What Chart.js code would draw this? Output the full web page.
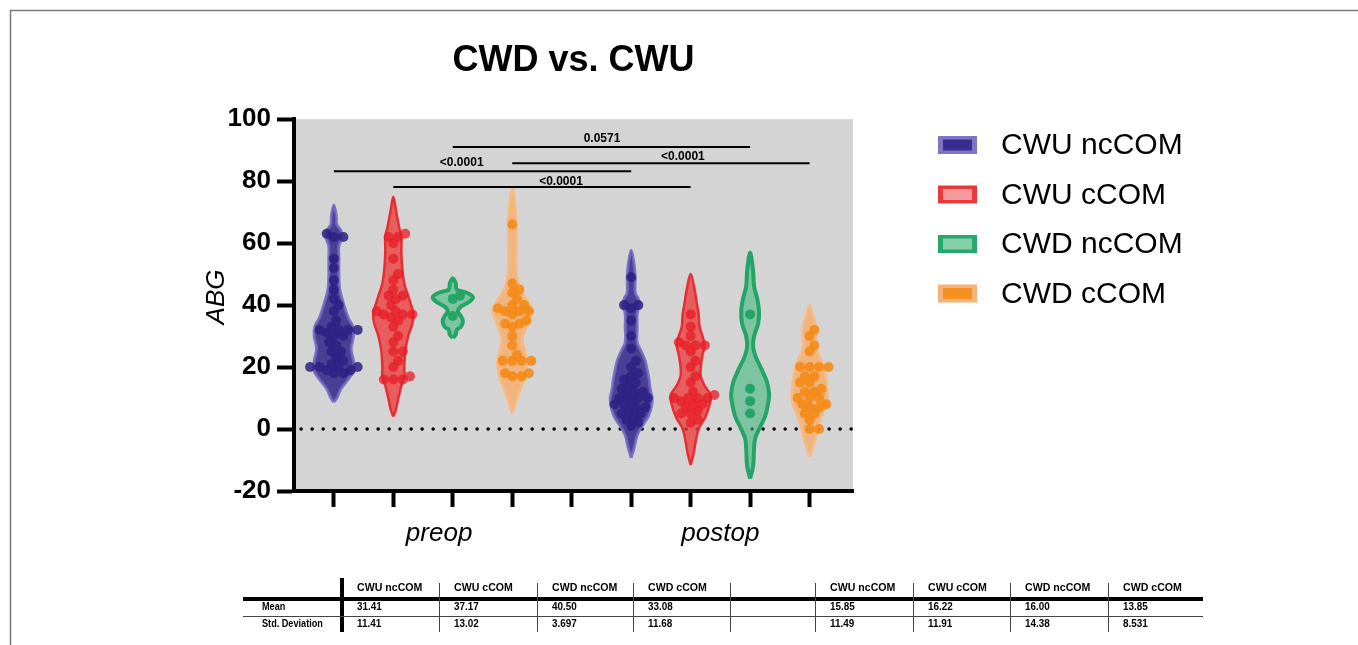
<!DOCTYPE html>
<html>
<head>
<meta charset="utf-8">
<title>CWD vs. CWU</title>
<script src="https://cdn.jsdelivr.net/npm/chart.js@4.4.0/dist/chart.umd.min.js"></script>
<style>
  html, body { margin: 0; padding: 0; background: #fff; }
</style>
</head>
<body>
<canvas id="abgChart" width="1358" height="645"></canvas>
<script>
// ---- data ----
const groups = ['CWU ncCOM', 'CWU cCOM', 'CWD ncCOM', 'CWD cCOM'];
const timepoints = ['preop', 'postop'];
const slots = [0, 1, 2, 3, 5, 6, 7, 8];          // x slot of each violin (gap at 4)
const yTicks = [-20, 0, 20, 40, 60, 80, 100];

// ABG values per violin (estimated from the dots)
const preopCwuNc = [63, 62, 62, 55, 52, 48, 45, 42, 40, 38, 35, 33, 32, 32, 32, 32, 31, 30, 30, 28, 27, 25, 25, 23, 22, 21, 20, 20, 20, 20, 19, 19, 18, 18];
const preopCwuC  = [63, 62, 62, 60, 55, 50, 48, 45, 43, 43, 42, 40, 38, 38, 37, 37, 37, 36, 35, 33, 30, 28, 25, 25, 22, 20, 17, 16, 16, 16];
const preopCwdNc = [43, 42, 36.5];
const preopCwdC  = [66, 47, 45, 44, 42, 40, 40, 39, 38, 38, 38, 37, 35, 34, 34, 33, 30, 27, 24, 22, 22, 22, 22, 18, 18, 17, 17];
const postopCwuNc = [49, 40, 40, 39, 35, 30, 26, 22, 20, 18, 17, 16, 15, 14, 13, 12, 12, 11, 10, 10, 10, 9, 8, 8, 7, 7, 6, 5, 5, 4, 3, 2, 1];
const postopCwuC  = [37, 33, 30, 28, 27, 27, 27, 25, 22, 20, 17, 15, 12, 11, 10, 10, 10, 10, 9, 8, 8, 7, 6, 5, 5, 3, 2];
const postopCwdNc = [37, 13, 9, 5];
const postopCwdC  = [32, 30, 27, 25, 20, 20, 20, 20, 17, 17, 15, 15, 13, 12, 12, 10, 10, 10, 8, 8, 7, 7, 5, 5, 3, 0, 0];

// violin density profiles: [ABG, half width in slot units], bottom to top
const densPreopCwuNc = [[8.7,0],[10,.05],[13,.12],[16,.24],[19,.34],[22,.33],[26,.29],[30,.33],[33,.32],[36,.24],[40,.17],[45,.10],[50,.085],[55,.085],[59,.085],[62,.135],[64,.12],[66,.05],[69,.04],[72.3,0]];
const densPreopCwuC  = [[4,0],[6,.04],[10,.085],[14,.135],[17,.185],[20,.185],[25,.2],[30,.25],[34,.32],[37,.34],[40,.3],[43,.25],[47,.185],[52,.15],[57,.135],[62,.135],[65,.1],[70,.05],[75,0]];
const densPreopCwdNc = [[29.4,0],[30.5,.05],[32,.067],[33,.135],[34.8,.17],[36.5,.135],[38,.085],[39.5,.135],[41,.27],[42.5,.34],[44,.235],[45,.067],[47,.05],[48.7,0]];
const densPreopCwdC  = [[5,0],[8,.05],[12,.12],[16,.2],[19,.235],[22,.25],[26,.2],[29,.17],[32,.22],[36,.3],[38.5,.336],[41,.27],[44,.17],[47,.1],[52,.067],[60,.067],[66,.067],[72,.05],[78,0]];
const densPostopCwuNc = [[-9.3,0],[-6,.05],[-2,.1],[1,.185],[4,.286],[7,.336],[10,.353],[13,.32],[16,.3],[19,.27],[22,.235],[25,.17],[28,.1],[33,.1],[37,.1],[40,.135],[42,.12],[44,.067],[49,.067],[53,.05],[57.7,0]];
const densPostopCwuC  = [[-11.6,0],[-8,.05],[-4,.085],[0,.135],[4,.25],[8,.32],[11,.336],[14,.235],[17,.17],[20,.17],[24,.2],[27,.235],[30,.2],[33,.15],[37,.135],[41,.1],[45,.067],[50,0]];
const densPostopCwdNc = [[-16,0],[-12,.05],[-6,.067],[-3,.085],[0,.15],[4,.25],[8,.3],[11,.32],[15,.286],[19,.2],[23,.1],[26.5,.05],[30,.067],[34,.135],[38,.15],[42,.12],[46,.067],[51,.05],[57,0]];
const densPostopCwdC  = [[-9,0],[-6,.05],[-3,.1],[0,.135],[4,.2],[8,.286],[11,.3],[15,.286],[19,.25],[22,.2],[25,.135],[28,.1],[31,.12],[34,.1],[37,.05],[40,0]];

// multiple comparisons: [from slot, to slot, p]
const comparisons = [[2, 7, '0.0571'], [3, 8, '<0.0001'], [0, 5, '<0.0001'], [1, 6, '<0.0001']];
const comparisonLevels = [91, 85.8, 83.2, 78.1];

// descriptive stats table
const tableMeans = ['31.41', '37.17', '40.50', '33.08', '15.85', '16.22', '16.00', '13.85'];
const tableSds   = ['11.41', '13.02', '3.697', '11.68', '11.49', '11.91', '14.38', '8.531'];

const abgValues = [preopCwuNc, preopCwuC, preopCwdNc, preopCwdC, postopCwuNc, postopCwuC, postopCwdNc, postopCwdC];
const densities = [densPreopCwuNc, densPreopCwuC, densPreopCwdNc, densPreopCwdC, densPostopCwuNc, densPostopCwuC, densPostopCwdNc, densPostopCwdC];

// ---- styles ----
const FONT = '"Liberation Sans", Arial, sans-serif';
const styles = [
  { fill: 'rgba(56,42,140,0.88)', line: 'rgba(112,102,190,0.85)', lineW: 3, dot: 'rgba(46,32,132,0.85)', boxOut: '#7d76c4', boxIn: '#3a2d8f' },
  { fill: 'rgba(236,60,62,0.78)', line: 'rgba(232,40,43,0.95)', lineW: 2.5, dot: 'rgba(232,28,36,0.75)', boxOut: '#e8393c', boxIn: '#f59b9c' },
  { fill: 'rgba(70,185,128,0.6)', line: '#23a566', lineW: 4, dot: '#23a566', boxOut: '#26a96a', boxIn: '#86d0a8' },
  { fill: 'rgba(246,172,104,0.8)', line: 'rgba(248,186,130,1)', lineW: 2.5, dot: 'rgba(245,135,15,0.85)', boxOut: '#f5b27a', boxIn: '#f6901e' }
];

// violin outline: right side bottom->top, then left side back down
function outline(pos, profile) {
  const right = profile.map(([v, w]) => ({ x: pos + w, y: v }));
  const left = profile.slice().reverse().map(([v, w]) => ({ x: pos - w, y: v }));
  return right.concat(left.slice(1));
}

// simple beeswarm so equal values sit side by side
function swarm(values, pos) {
  const pxX = 59.47, pxY = 3.1, minD = 7.5;
  const placed = [];
  values.slice().sort((a, b) => a - b).forEach(v => {
    for (let k = 0; k < 60; k++) {
      const off = (k === 0 ? 0 : (k % 2 ? 1 : -1) * Math.ceil(k / 2)) * 0.04;
      const ok = placed.every(p => Math.hypot((p.x - pos - off) * pxX, (p.y - v) * pxY) >= minD);
      if (ok) { placed.push({ x: pos + off, y: v }); break; }
    }
  });
  return placed;
}

const datasets = [];
datasets.push({
  type: 'line', data: [{ x: -0.55, y: 0 }, { x: 8.73, y: 0 }],
  borderColor: '#000', borderWidth: 3.5, borderDash: [0, 11], borderCapStyle: 'round',
  pointRadius: 0, order: 5
});
slots.forEach((pos, i) => {
  const st = styles[i % 4];
  datasets.push({
    type: 'line', label: groups[i % 4], data: outline(pos, densities[i]),
    backgroundColor: st.fill, borderColor: st.line, borderWidth: st.lineW,
    fill: 'shape', tension: 0.35, pointRadius: 0, order: 4
  });
  datasets.push({
    type: 'scatter', data: swarm(abgValues[i], pos),
    backgroundColor: st.dot, borderWidth: 0, pointRadius: 5, order: 3
  });
});
comparisons.forEach(([a, b], i) => {
  datasets.push({
    type: 'line', data: [{ x: a, y: comparisonLevels[i] }, { x: b, y: comparisonLevels[i] }],
    borderColor: '#000', borderWidth: 2, pointRadius: 0, order: 1
  });
});

// where the bracket p-values and timepoint captions sit
const pLabelX = [4.51, 5.87, 2.15, 3.82];
const pLabelY = [92.6, 86.8, 84.8, 78.7];
const timepointX = [1.77, 6.5];

function narrowText(ctx, text, x, y, sx) {
  ctx.save();
  ctx.translate(x, y);
  ctx.scale(sx, 1);
  ctx.fillText(text, 0, 0);
  ctx.restore();
}

const decor = {
  id: 'decor',
  beforeDraw(chart) {
    const { ctx, chartArea: a } = chart;
    ctx.save();
    ctx.fillStyle = '#fff';
    ctx.fillRect(0, 0, chart.width, chart.height);
    ctx.fillStyle = '#d4d4d4';
    ctx.fillRect(a.left, a.top, a.right - a.left, a.bottom - a.top);
    ctx.restore();
  },
  afterDraw(chart) {
    const { ctx, scales: { x, y } } = chart;
    ctx.save();
    ctx.fillStyle = '#000';
    ctx.textAlign = 'center';
    ctx.textBaseline = 'alphabetic';

    // p values
    ctx.font = 'bold 12px ' + FONT;
    comparisons.forEach((c, i) => ctx.fillText(c[2], x.getPixelForValue(pLabelX[i]), y.getPixelForValue(pLabelY[i])));

    // timepoint captions
    ctx.font = 'italic 26px ' + FONT;
    timepoints.forEach((t, i) => ctx.fillText(t, x.getPixelForValue(timepointX[i]), 541));

    // y title
    ctx.save();
    ctx.translate(224, 297);
    ctx.rotate(-Math.PI / 2);
    ctx.fillText('ABG', 0, 0);
    ctx.restore();

    // legend
    ctx.textAlign = 'left';
    ctx.textBaseline = 'middle';
    ctx.font = '30px ' + FONT;
    groups.forEach((g, i) => {
      const cy = 145 + i * 49.5;
      ctx.fillStyle = styles[i].boxOut;
      ctx.fillRect(938, cy - 9, 39, 18);
      ctx.fillStyle = styles[i].boxIn;
      ctx.fillRect(943, cy - 5.5, 29, 11);
      ctx.fillStyle = '#000';
      ctx.fillText(g, 1001, cy + 1);
    });

    // stats table
    const colLeft = [342, 439, 537, 633, 815, 913, 1010, 1108];
    ctx.strokeStyle = '#000';
    ctx.lineWidth = 4;
    ctx.beginPath();
    ctx.moveTo(243, 599); ctx.lineTo(1203, 599);
    ctx.moveTo(342, 578); ctx.lineTo(342, 632);
    ctx.stroke();
    ctx.lineWidth = 1;
    ctx.strokeStyle = '#444';
    ctx.beginPath();
    ctx.moveTo(243, 616.5); ctx.lineTo(1203, 616.5);
    [439, 537, 633, 730, 815, 913, 1010, 1108].forEach(cx => {
      ctx.moveTo(cx + 0.5, 583); ctx.lineTo(cx + 0.5, 632);
    });
    ctx.stroke();
    ctx.fillStyle = '#000';
    ctx.font = 'bold 11px ' + FONT;
    narrowText(ctx, 'Mean', 262, 607, 0.83);
    narrowText(ctx, 'Std. Deviation', 262, 624, 0.83);
    colLeft.forEach((cx, i) => {
      ctx.font = 'bold 10px ' + FONT;
      narrowText(ctx, groups[i % 4], cx + 15, 588, 1.06);
      ctx.font = 'bold 11.5px ' + FONT;
      narrowText(ctx, tableMeans[i], cx + 15, 607, 0.86);
      narrowText(ctx, tableSds[i], cx + 15, 624, 0.86);
    });

    // figure frame
    ctx.strokeStyle = '#7a7a7a';
    ctx.lineWidth = 1.5;
    ctx.beginPath();
    ctx.moveTo(10.5, 645); ctx.lineTo(10.5, 10.5); ctx.lineTo(1358, 10.5);
    ctx.stroke();
    ctx.restore();
  }
};

Chart.defaults.font.family = FONT;
Chart.defaults.color = '#000';

new Chart(document.getElementById('abgChart'), {
  type: 'line',
  data: { datasets },
  options: {
    responsive: false,
    animation: false,
    events: [],
    layout: { padding: { left: 190, right: 505, top: 0, bottom: 134 } },
    plugins: {
      legend: { display: false },
      tooltip: { enabled: false },
      title: {
        display: true, text: 'CWD vs. CWU', fullSize: false, color: '#000',
        font: { size: 36, weight: 'bold' }, padding: { top: 39, bottom: 37 }
      }
    },
    scales: {
      x: {
        type: 'linear', min: -0.67, max: 8.73,
        afterBuildTicks: s => { s.ticks = slots.concat([4]).sort((a, b) => a - b).map(v => ({ value: v })); },
        afterFit: s => { s.height = 20; },
        ticks: { display: false },
        grid: { drawOnChartArea: false, tickLength: 16, tickWidth: 4, color: '#000' },
        border: { width: 4, color: '#000' }
      },
      y: {
        min: -20, max: 100,
        afterBuildTicks: s => { s.ticks = yTicks.map(v => ({ value: v })); },
        afterFit: s => { s.width = 104; },
        ticks: { font: { size: 26, weight: 'bold' }, color: '#000', padding: 6 },
        grid: { drawOnChartArea: false, tickLength: 17, tickWidth: 4, color: '#000' },
        border: { width: 4, color: '#000' }
      }
    }
  },
  plugins: [decor]
});
</script>
</body>
</html>
